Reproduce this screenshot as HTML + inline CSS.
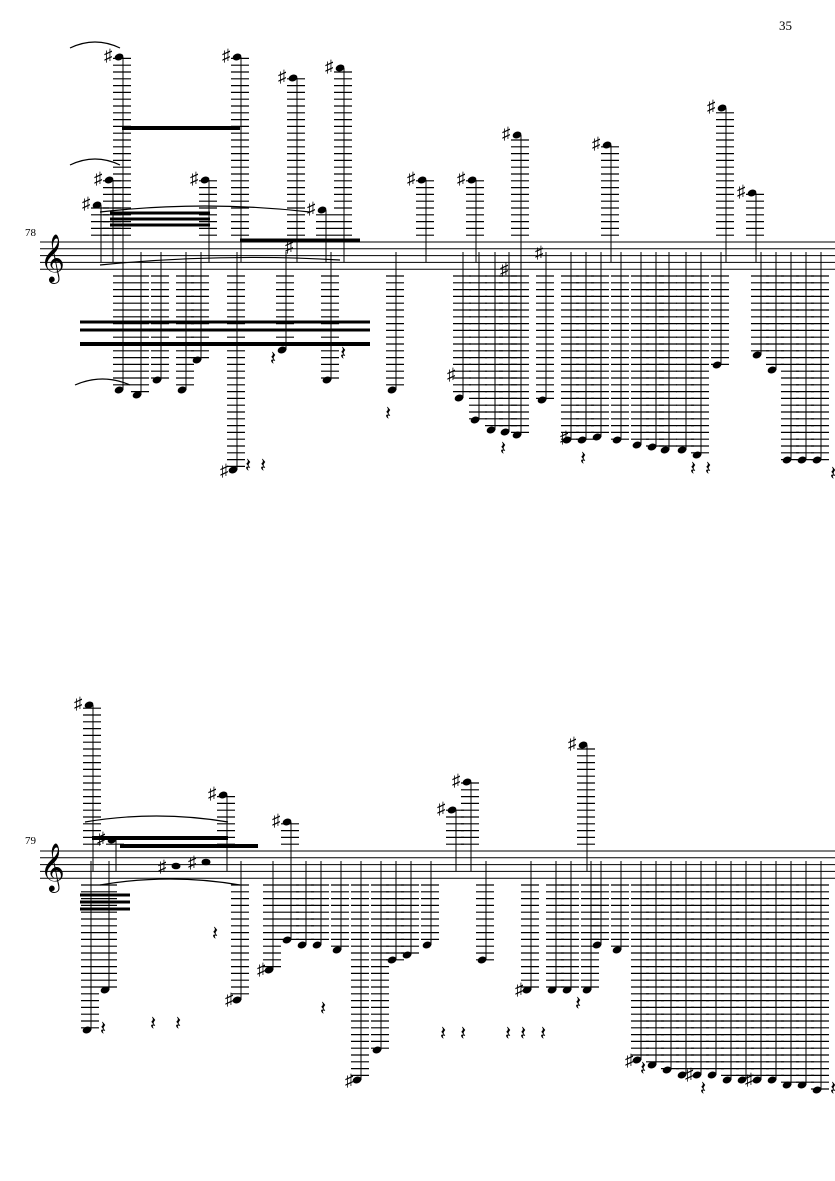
<!DOCTYPE html>
<html><head><meta charset="utf-8"><style>
body{margin:0;background:#fff;width:835px;height:1181px;overflow:hidden}
svg{position:absolute;left:0;top:0}
text{font-family:"Liberation Serif","DejaVu Sans",serif}
</style></head><body>
<svg id="s" width="835" height="1181" viewBox="0 0 835 1181">
<text x="779" y="30" font-size="13">35</text>
<text x="25" y="236" font-size="11">78</text>
<text x="25" y="844" font-size="11">79</text>
<text x="40" y="272" font-size="42">𝄞</text>
<text x="40" y="881" font-size="42">𝄞</text>
</svg>
<script>
const s=document.getElementById('s');const NS='http://www.w3.org/2000/svg';
function el(t,a){const e=document.createElementNS(NS,t);for(const k in a)e.setAttribute(k,a[k]);s.appendChild(e);return e;}
function line(x1,y1,x2,y2,w){el('line',{x1,y1,x2,y2,stroke:'#000','stroke-width':w||1});}
const G=6.8;
function staff(top){for(let i=0;i<5;i++)line(40,top+i*G,835,top+i*G,1);}
function up(x,top,st){
  for(let y=st-G;y>=top;y-=G)line(x-9,y,x+9,y,1.2);
  el('ellipse',{cx:x-3,cy:top,rx:4.5,ry:3.3,transform:`rotate(-20 ${x-3} ${top})`});
  line(x+1,top,x+1,st+20,1);
}
function down(x,bot,st){
  const sb=st+4*G;
  for(let y=sb+G;y<=bot;y+=G)line(x-9,y,x+9,y,1.2);
  el('ellipse',{cx:x-3,cy:bot,rx:4.5,ry:3.3,transform:`rotate(-20 ${x-3} ${bot})`});
  line(x+1,bot,x+1,st+10,1);
}
function acc(x,y){const t=el('text',{x,y,'font-size':17});t.textContent='♯';}
function rest(x,y){const t=el('text',{x,y,'font-size':20,'font-family':'DejaVu Sans'});t.textContent='𝄽';}
staff(242);staff(851);
[[122,57],[240,57],[296,78],[343,68],[425,180],[475,180],[520,135],[610,145],[725,108],[755,193],[112,180],[208,180],[325,210],[100,205]].forEach(c=>{up(c[0],c[1],242);acc(c[0]-18,c[1]+4);});
[[122,390],[236,470],[285,350],[330,380],[395,390],[462,398],[478,420],[494,430],[508,432],[520,435],[545,400],[570,440],[585,440],[600,437],[620,440],[640,445],[655,447],[668,450],[685,450],[700,455],[720,365],[760,355],[775,370],[790,460],[805,460],[820,460],[140,395],[160,380],[185,390],[200,360]].forEach(c=>down(c[0],c[1],242));
[[235,476],[575,443],[462,380],[515,275],[550,258],[300,252]].forEach(c=>acc(c[0]-15,c[1]));
line(122,128,240,128,4);line(110,213,210,213,3);line(110,219,210,219,3);line(110,225,210,225,3);
line(80,344,370,344,4);line(80,322,370,322,3);line(80,330,370,330,3);line(240,240,360,240,3);
[[92,705],[226,795],[290,822],[470,782],[586,745],[455,810],[115,840]].forEach(c=>{up(c[0],c[1],851);acc(c[0]-18,c[1]+4);});
[[90,1030],[108,990],[240,1000],[272,970],[290,940],[305,945],[320,945],[340,950],[360,1080],[380,1050],[395,960],[410,955],[430,945],[485,960],[530,990],[555,990],[570,990],[590,990],[600,945],[620,950],[640,1060],[655,1065],[670,1070],[685,1075],[700,1075],[715,1075],[730,1080],[745,1080],[760,1080],[775,1080],[790,1085],[805,1085],[820,1090]].forEach(c=>down(c[0],c[1],851));
[[360,1086],[240,1005],[272,975],[530,995],[640,1066],[700,1080],[760,1085]].forEach(c=>acc(c[0]-15,c[1]));
line(92,838,228,838,4);line(120,846,258,846,4);line(80,895,130,895,3);line(80,902,130,902,3);line(80,909,130,909,3);
el('ellipse',{cx:176,cy:866,rx:4.5,ry:3.3});acc(158,872);el('ellipse',{cx:206,cy:862,rx:4.5,ry:3.3});acc(188,868);
[[245,472],[260,472],[270,365],[340,360],[385,420],[500,455],[580,465],[690,475],[705,475],[830,480],[212,940],[320,1015],[440,1040],[460,1040],[505,1040],[520,1040],[540,1040],[575,1010],[640,1075],[700,1095],[830,1095],[150,1030],[175,1030],[100,1035]].forEach(r=>rest(r[0],r[1]));
[[70,48,120,48],[70,165,120,165],[100,212,310,212],[100,265,340,260],[85,822,228,822],[100,885,240,885],[75,385,130,385]].forEach(a=>{el('path',{d:`M${a[0]} ${a[1]} Q${(a[0]+a[2])/2} ${a[1]-12} ${a[2]} ${a[3]}`,fill:'none',stroke:'#000','stroke-width':1.2});});
</script>
</body></html>
